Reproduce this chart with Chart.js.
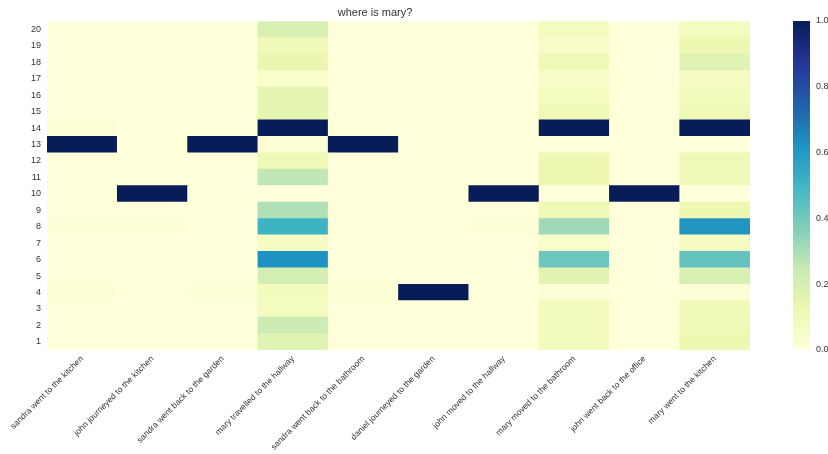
<!DOCTYPE html>
<html>
<head>
<meta charset="utf-8">
<script src="https://cdn.jsdelivr.net/npm/chart.js@4.4.1/dist/chart.umd.min.js"></script>
<style>
  body { margin: 0; background: #fff; }
  #wrap { position: relative; width: 828px; height: 454px; }
  #heat { position: absolute; left: 0; top: 0; }
  #bar { position: absolute; left: 780px; top: 0; }
</style>
</head>
<body>
<div id="wrap">
  <canvas id="heat" width="828" height="454"></canvas>
  <canvas id="bar" width="48" height="454"></canvas>
</div>
<script>
// sentences (columns) and memory slots (rows)
const sentences = [
  'sandra went to the kitchen',
  'john journeyed to the kitchen',
  'sandra went back to the garden',
  'mary travelled to the hallway',
  'sandra went back to the bathroom',
  'daniel journeyed to the garden',
  'john moved to the hallway',
  'mary moved to the bathroom',
  'john went back to the office',
  'mary went to the kitchen'
];
const rows = [1, 2, 3, 4, 5, 6, 7, 8, 9, 10, 11, 12, 13, 14, 15, 16, 17, 18, 19, 20];

// attention weight per row (1..20) for each sentence
const sandraKitchen   = [0, 0, 0, 0.02, 0, 0, 0, 0.01, 0, 0, 0, 0, 1, 0.01, 0, 0, 0, 0, 0, 0];
const johnKitchen     = [0, 0, 0, 0, 0, 0, 0, 0.01, 0, 1, 0, 0, 0, 0, 0, 0, 0, 0, 0, 0];
const sandraGarden    = [0, 0, 0, 0.01, 0, 0, 0, 0, 0, 0, 0, 0, 1, 0, 0, 0, 0, 0, 0, 0];
const maryHallway     = [0.17, 0.23, 0.08, 0.09, 0.21, 0.62, 0.07, 0.51, 0.29, 0, 0.26, 0.11, 0.01, 1, 0.15, 0.15, 0.04, 0.13, 0.10, 0.19];
const sandraBathroom  = [0, 0, 0, 0.02, 0, 0, 0, 0, 0, 0, 0, 0, 1, 0, 0, 0, 0, 0, 0, 0];
const danielGarden    = [0, 0, 0, 1, 0, 0, 0, 0, 0, 0, 0, 0, 0, 0, 0, 0, 0, 0, 0, 0];
const johnHallway     = [0, 0, 0, 0, 0, 0, 0, 0.01, 0, 1, 0, 0, 0, 0, 0, 0, 0, 0, 0, 0];
const maryBathroom    = [0.09, 0.09, 0.09, 0.01, 0.16, 0.41, 0.04, 0.32, 0.11, 0, 0.12, 0.12, 0, 1, 0.11, 0.08, 0.05, 0.11, 0.05, 0.08];
const johnOffice      = [0, 0, 0, 0, 0, 0, 0, 0, 0, 1, 0, 0, 0, 0, 0, 0, 0, 0, 0, 0];
const maryKitchen     = [0.125, 0.11, 0.10, 0.01, 0.19, 0.43, 0.07, 0.61, 0.12, 0, 0.11, 0.11, 0, 1, 0.11, 0.09, 0.07, 0.17, 0.12, 0.08];

const columns = [sandraKitchen, johnKitchen, sandraGarden, maryHallway, sandraBathroom,
                 danielGarden, johnHallway, maryBathroom, johnOffice, maryKitchen];

const barTicks = [0, 0.2, 0.4, 0.6, 0.8, 1.0];

// YlGnBu
const stops = ['#ffffd9', '#edf8b1', '#c7e9b4', '#7fcdbb', '#41b6c4', '#1d91c0', '#225ea8', '#253494', '#081d58'];

function hex(c) {
  return [parseInt(c.slice(1, 3), 16), parseInt(c.slice(3, 5), 16), parseInt(c.slice(5, 7), 16)];
}
function ylgnbu(v) {
  v = Math.max(0, Math.min(1, v));
  const p = v * (stops.length - 1);
  const i = Math.min(Math.floor(p), stops.length - 2);
  const t = p - i;
  const a = hex(stops[i]), b = hex(stops[i + 1]);
  const m = a.map((x, k) => Math.round(x + (b[k] - x) * t));
  return 'rgb(' + m.join(',') + ')';
}

const textColor = '#333';
const font = { family: 'Liberation Sans, Arial, sans-serif', size: 9 };

// one floating-bar dataset per row
const datasets = rows.map((r, i) => ({
  data: columns.map(() => [r - 0.5, r + 0.5]),
  backgroundColor: columns.map(col => ylgnbu(col[i])),
  borderWidth: 0,
  barPercentage: 1,
  categoryPercentage: 1,
  grouped: false
}));

new Chart(document.getElementById('heat'), {
  type: 'bar',
  data: { labels: sentences, datasets: datasets },
  options: {
    responsive: false,
    animation: false,
    layout: { padding: { left: 0, right: 78, top: 0, bottom: 0 } },
    plugins: {
      legend: { display: false },
      tooltip: { enabled: false },
      title: {
        display: true,
        text: 'where is mary?',
        color: textColor,
        font: { family: font.family, size: 11, weight: 'normal' },
        padding: { top: 6, bottom: 2 }
      }
    },
    scales: {
      x: {
        grid: { display: false, drawTicks: false },
        border: { display: false },
        ticks: { color: textColor, font: { family: font.family, size: 8.5 }, maxRotation: 45, minRotation: 45, padding: 4, autoSkip: false },
        afterFit: s => { s.height = 104; }
      },
      y: {
        min: 0.5,
        max: 20.5,
        grid: { display: false, drawTicks: false },
        border: { display: false },
        ticks: { color: textColor, font: font, padding: 6 },
        afterBuildTicks: s => { s.ticks = rows.map(v => ({ value: v })); },
        afterFit: s => { s.width = 47; }
      }
    }
  }
});

// colour bar
new Chart(document.getElementById('bar'), {
  type: 'bar',
  data: {
    labels: [''],
    datasets: [{
      data: [[0, 1]],
      borderWidth: 0,
      barPercentage: 1,
      categoryPercentage: 1,
      backgroundColor: ctx => {
        const area = ctx.chart.chartArea;
        if (!area) return stops[0];
        const g = ctx.chart.ctx.createLinearGradient(0, area.bottom, 0, area.top);
        stops.forEach((c, k) => g.addColorStop(k / (stops.length - 1), c));
        return g;
      }
    }]
  },
  options: {
    responsive: false,
    animation: false,
    layout: { padding: { left: 13, right: 0, top: 21, bottom: 104 } },
    plugins: { legend: { display: false }, tooltip: { enabled: false } },
    scales: {
      x: { display: false },
      y: {
        position: 'right',
        min: 0,
        max: 1,
        grid: { display: false, drawTicks: false },
        border: { display: false },
        ticks: { color: textColor, font: font, padding: 6, callback: v => v.toFixed(1) },
        afterBuildTicks: s => { s.ticks = barTicks.map(v => ({ value: v })); },
        afterFit: s => { s.width = 18; }
      }
    }
  }
});
</script>
</body>
</html>
